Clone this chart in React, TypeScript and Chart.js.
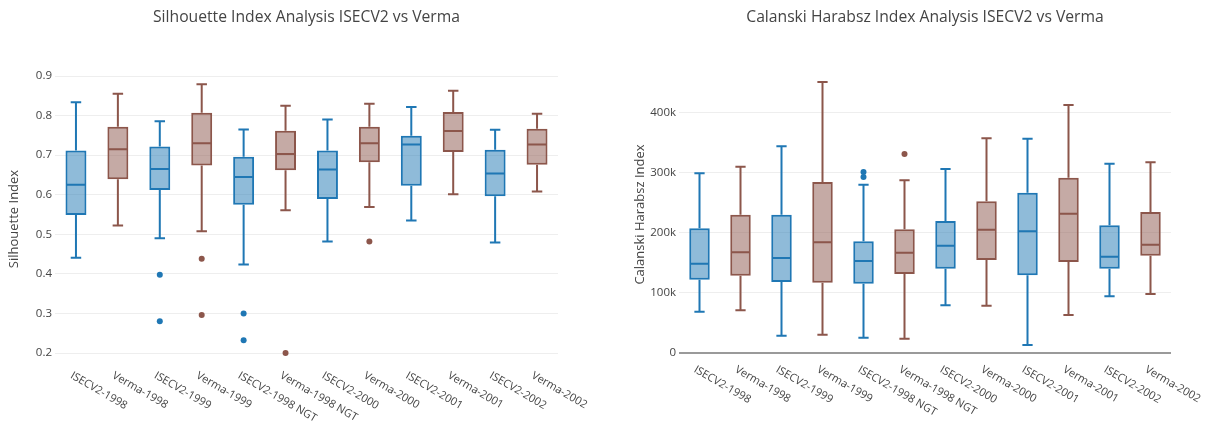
import React, { useEffect, useRef } from 'react';
import { Chart, registerables } from 'chart.js';

Chart.register(...registerables);

const FONT = "'Open Sans', 'DejaVu Sans', sans-serif";
const TEXT = '#444';
const BLUE = '#1f77b4';
const BLUE_FILL = 'rgba(31, 119, 180, 0.5)';
const BROWN = '#8c564b';
const BROWN_FILL = 'rgba(140, 86, 75, 0.5)';

const categories = [
  'ISECV2-1998', 'Verma-1998', 'ISECV2-1999', 'Verma-1999',
  'ISECV2-1998 NGT', 'Verma-1998 NGT', 'ISECV2-2000', 'Verma-2000',
  'ISECV2-2001', 'Verma-2001', 'ISECV2-2002', 'Verma-2002',
];

// Silhouette index: box statistics per category
const silMin = [0.441, 0.522, 0.490, 0.508, 0.424, 0.561, 0.482, 0.569, 0.535, 0.601, 0.479, 0.608];
const silQ1 = [0.549, 0.639, 0.612, 0.674, 0.575, 0.662, 0.589, 0.682, 0.623, 0.708, 0.596, 0.676];
const silMedian = [0.625, 0.715, 0.665, 0.730, 0.645, 0.703, 0.664, 0.730, 0.727, 0.761, 0.654, 0.727];
const silQ3 = [0.712, 0.772, 0.722, 0.807, 0.696, 0.762, 0.712, 0.772, 0.749, 0.809, 0.714, 0.767];
const silMax = [0.834, 0.855, 0.786, 0.879, 0.765, 0.825, 0.790, 0.830, 0.822, 0.863, 0.764, 0.805];
const silOutliers: number[][] = [[], [], [0.398, 0.280], [0.438, 0.296], [0.300, 0.232], [0.200], [], [0.482], [], [], [], []];
const silTicks = [0.2, 0.3, 0.4, 0.5, 0.6, 0.7, 0.8, 0.9];

// Calinski-Harabasz index: box statistics per category
const chMin = [68700, 70900, 28800, 30500, 25500, 23800, 79200, 78700, 13300, 63200, 94200, 98100];
const chQ1 = [121900, 128500, 118000, 116900, 115200, 131300, 140200, 154600, 129100, 151200, 140200, 161800];
const chMedian = [148500, 167300, 157900, 183900, 152900, 166800, 178400, 205000, 202200, 231600, 160100, 180100];
const chQ3 = [207200, 229900, 229900, 284200, 185600, 205500, 219400, 252100, 266500, 291400, 212200, 234300];
const chMax = [298600, 309700, 343500, 450400, 279800, 287000, 305800, 356800, 356200, 412200, 314700, 316900];
const chOutliers: number[][] = [[], [], [], [], [301000, 292500], [330700], [], [], [], [], [], []];
const chTicks = [0, 100000, 200000, 300000, 400000];

interface BoxSpec {
  title: string;
  yTitle: string;
  min: number[];
  q1: number[];
  median: number[];
  q3: number[];
  max: number[];
  outliers: number[][];
  ticks: number[];
  yMin: number;
  yMax: number;
  tickFormat: (v: number) => string;
  zeroLine: boolean;
  pad: { left: number; right: number };
  yAxisWidth: number;
  xAxisHeight: number;
  titleGap: number;
}

const isIsec = (c: string) => c.startsWith('ISECV2');
const lineColors = categories.map((c) => (isIsec(c) ? BLUE : BROWN));
const fillColors = categories.map((c) => (isIsec(c) ? BLUE_FILL : BROWN_FILL));

function outlierPoints(outliers: number[][], group: boolean) {
  const pts: { x: string; y: number }[] = [];
  categories.forEach((c, i) => {
    if (isIsec(c) === group) outliers[i].forEach((v) => pts.push({ x: c, y: v }));
  });
  return pts;
}

function buildChart(canvas: HTMLCanvasElement, s: BoxSpec) {
  // whiskers, caps and median lines drawn on top of the floating bars
  const whiskers = {
    id: 'whiskers',
    afterDatasetsDraw(chart: any) {
      const ctx = chart.ctx;
      const y = chart.scales.y;
      const meta = chart.getDatasetMeta(0);
      meta.data.forEach((bar: any, i: number) => {
        const { x, width } = bar.getProps(['x', 'width'], true);
        const half = width / 2;
        const cap = width / 4;
        const pMed = y.getPixelForValue(s.median[i]);
        const pQ1 = y.getPixelForValue(s.q1[i]);
        const pQ3 = y.getPixelForValue(s.q3[i]);
        const pMin = y.getPixelForValue(s.min[i]);
        const pMax = y.getPixelForValue(s.max[i]);
        ctx.save();
        ctx.strokeStyle = lineColors[i];
        ctx.lineWidth = 2;
        ctx.beginPath();
        ctx.moveTo(x - half + 1, pMed);
        ctx.lineTo(x + half - 1, pMed);
        ctx.moveTo(x, pQ3);
        ctx.lineTo(x, pMax);
        ctx.moveTo(x - cap, pMax);
        ctx.lineTo(x + cap, pMax);
        ctx.moveTo(x, pQ1);
        ctx.lineTo(x, pMin);
        ctx.moveTo(x - cap, pMin);
        ctx.lineTo(x + cap, pMin);
        ctx.stroke();
        ctx.restore();
      });
    },
  };

  // slanted category labels starting at each tick
  const slantedLabels = {
    id: 'slantedLabels',
    afterDraw(chart: any) {
      const ctx = chart.ctx;
      const xs = chart.scales.x;
      const bottom = chart.chartArea.bottom;
      ctx.save();
      ctx.font = `11px ${FONT}`;
      ctx.fillStyle = TEXT;
      ctx.textAlign = 'left';
      ctx.textBaseline = 'top';
      categories.forEach((c, i) => {
        const px = xs.getPixelForValue(i);
        ctx.save();
        ctx.translate(px - 2, bottom + 5);
        ctx.rotate(Math.PI / 6);
        ctx.fillText(c, 0, 0);
        ctx.restore();
      });
      ctx.restore();
    },
  };

  return new Chart(canvas, {
    type: 'bar',
    data: {
      labels: categories,
      datasets: [
        {
          type: 'bar',
          data: s.q1.map((v, i) => [v, s.q3[i]]),
          backgroundColor: fillColors,
          borderColor: lineColors,
          borderWidth: 2,
          borderSkipped: false,
          barPercentage: 0.5,
          categoryPercentage: 1,
        } as any,
        {
          type: 'line',
          data: outlierPoints(s.outliers, true),
          showLine: false,
          pointRadius: 3,
          pointBorderWidth: 0,
          pointBackgroundColor: BLUE,
          pointBorderColor: BLUE,
        } as any,
        {
          type: 'line',
          data: outlierPoints(s.outliers, false),
          showLine: false,
          pointRadius: 3,
          pointBorderWidth: 0,
          pointBackgroundColor: BROWN,
          pointBorderColor: BROWN,
        } as any,
      ],
    },
    options: {
      animation: false,
      responsive: false,
      devicePixelRatio: 1,
      events: [],
      layout: { padding: { left: s.pad.left, right: s.pad.right, top: 0, bottom: 0 } },
      plugins: {
        legend: { display: false },
        tooltip: { enabled: false },
        title: {
          display: true,
          text: s.title,
          color: TEXT,
          fullSize: false,
          font: { family: FONT, size: 15.7, weight: 'normal' },
          padding: { top: 8, bottom: s.titleGap },
        },
      },
      scales: {
        x: {
          type: 'category',
          offset: true,
          grid: { display: false },
          border: { display: false },
          ticks: { display: false },
          afterFit: (scale: any) => {
            scale.height = s.xAxisHeight;
          },
        },
        y: {
          type: 'linear',
          min: s.yMin,
          max: s.yMax,
          afterBuildTicks: (scale: any) => {
            scale.ticks = s.ticks.map((v) => ({ value: v }));
          },
          afterFit: (scale: any) => {
            scale.width = s.yAxisWidth;
          },
          border: { display: false },
          grid: {
            drawTicks: false,
            color: (ctx: any) => (s.zeroLine && ctx.tick && ctx.tick.value === 0 ? '#9a9a9a' : '#eeeeee'),
            lineWidth: (ctx: any) => (s.zeroLine && ctx.tick && ctx.tick.value === 0 ? 2 : 1),
          },
          ticks: {
            color: TEXT,
            padding: 3,
            font: { family: FONT, size: 11.5 },
            callback: (v: any) => s.tickFormat(Number(v)),
          },
          title: {
            display: true,
            text: s.yTitle,
            color: TEXT,
            font: { family: FONT, size: 13 },
            padding: { top: 6, bottom: 0 },
          },
        },
      },
    },
    plugins: [whiskers, slantedLabels],
  } as any);
}

function BoxPanel({ spec, left, width }: { spec: BoxSpec; left: number; width: number }) {
  const ref = useRef<HTMLCanvasElement | null>(null);
  useEffect(() => {
    if (!ref.current) return;
    const chart = buildChart(ref.current, spec);
    return () => chart.destroy();
  }, [spec]);
  return (
    <div style={{ position: 'absolute', left, top: 0, width, height: 427 }}>
      <canvas ref={ref} width={width} height={427} style={{ width, height: 427, display: 'block' }} />
    </div>
  );
}

const silhouetteSpec: BoxSpec = {
  title: 'Silhouette Index Analysis ISECV2 vs Verma',
  yTitle: 'Silhouette Index',
  min: silMin,
  q1: silQ1,
  median: silMedian,
  q3: silQ3,
  max: silMax,
  outliers: silOutliers,
  ticks: silTicks,
  yMin: 0.1697,
  yMax: 0.9076,
  tickFormat: (v) => v.toFixed(1),
  zeroLine: false,
  pad: { left: 0, right: 42 },
  yAxisWidth: 55,
  xAxisHeight: 62,
  titleGap: 46.2,
};

const calinskiSpec: BoxSpec = {
  title: 'Calanski Harabsz Index Analysis ISECV2 vs Verma',
  yTitle: 'Calanski Harabsz Index',
  min: chMin,
  q1: chQ1,
  median: chMedian,
  q3: chQ3,
  max: chMax,
  outliers: chOutliers,
  ticks: chTicks,
  yMin: -9970,
  yMax: 470300,
  tickFormat: (v) => (v === 0 ? '0' : `${Math.round(v / 1000)}k`),
  zeroLine: true,
  pad: { left: 26, right: 40 },
  yAxisWidth: 53,
  xAxisHeight: 68,
  titleGap: 43.2,
};

export default function App() {
  return (
    <div style={{ position: 'absolute', left: 0, top: 0, width: 1211, height: 427, background: '#fff' }}>
      <BoxPanel spec={silhouetteSpec} left={0} width={600} />
      <BoxPanel spec={calinskiSpec} left={600} width={611} />
    </div>
  );
}
